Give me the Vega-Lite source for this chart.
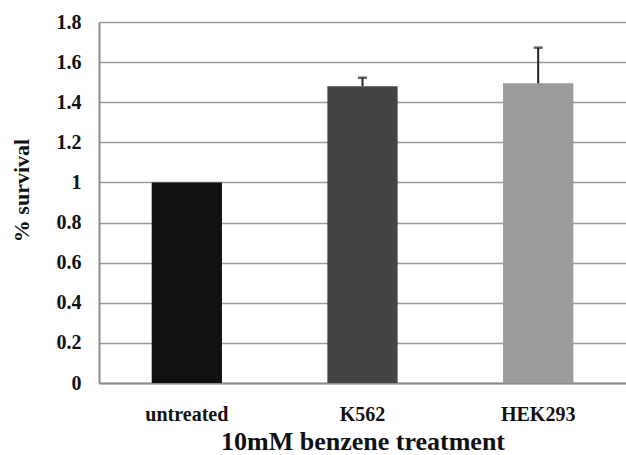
{
  "$schema": "https://vega.github.io/schema/vega-lite/v6.json",
  "width": 527,
  "height": 361,
  "autosize": {"type": "none"},
  "padding": {"left": 99, "top": 22, "right": 0, "bottom": 72},
  "background": "white",
  "config": {"view": {"stroke": null}, "font": "Liberation Serif"},
  "data": {"values": [
    {"group": "untreated", "survival": 1.0, "err": 1.0},
    {"group": "K562", "survival": 1.48, "err": 1.522},
    {"group": "HEK293", "survival": 1.494, "err": 1.672}
  ]},
  "encoding": {
    "x": {"field": "group", "type": "nominal", "sort": ["untreated", "K562", "HEK293"],
      "scale": {"paddingInner": 0.6, "paddingOuter": 0.3},
      "axis": {"title": "10mM benzene treatment", "labelAngle": 0, "ticks": false, "domain": true,
        "domainColor": "#8c8c8c", "domainWidth": 2, "labelFont": "Liberation Serif", "labelFontWeight": "bold",
        "labelFontSize": 20, "labelColor": "#111", "labelPadding": 21, "titleFont": "Liberation Serif",
        "titleFontSize": 26, "titleFontWeight": "bold", "titleColor": "#111", "titlePadding": 4}}
  },
  "layer": [
    {
      "mark": {"type": "bar"},
      "encoding": {
        "y": {"field": "survival", "type": "quantitative",
          "scale": {"domain": [0, 1.8]},
          "axis": {"title": "% survival", "values": [0, 0.2, 0.4, 0.6, 0.8, 1, 1.2, 1.4, 1.6, 1.8],
            "format": "~g", "grid": true, "gridColor": "#9a9a9a", "gridWidth": 1.5, "ticks": false,
            "domain": true, "domainColor": "#8c8c8c", "domainWidth": 2,
            "labelFont": "Liberation Serif", "labelFontWeight": "bold", "labelFontSize": 20, "labelColor": "#111",
            "labelPadding": 18, "titleFont": "Liberation Serif", "titleFontSize": 22, "titleFontWeight": "bold",
            "titleColor": "#111", "titlePadding": 23, "titleY": 168}},
        "color": {"field": "group", "type": "nominal", "legend": null,
          "scale": {"domain": ["untreated", "K562", "HEK293"], "range": ["#111111", "#444444", "#9b9b9b"]}}
      }
    },
    {
      "mark": {"type": "rule", "color": "#222", "strokeWidth": 2},
      "encoding": {"y": {"field": "survival", "type": "quantitative"}, "y2": {"field": "err"}}
    },
    {
      "mark": {"type": "tick", "color": "#222", "thickness": 2.5, "size": 9, "orient": "horizontal"},
      "transform": [{"filter": "datum.err > datum.survival"}],
      "encoding": {"y": {"field": "err", "type": "quantitative"}}
    }
  ]
}
